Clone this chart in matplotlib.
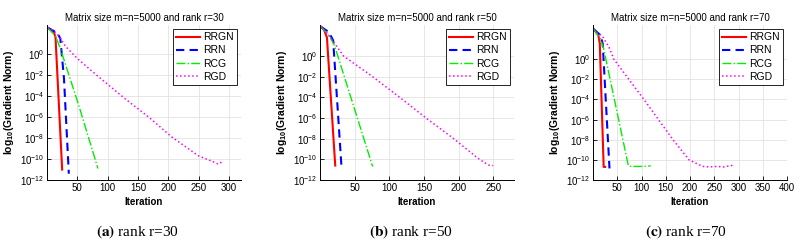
import numpy as np
import matplotlib
matplotlib.use("Agg")
import matplotlib.pyplot as plt
from matplotlib.ticker import LogFormatterSciNotation

plt.rcParams["font.family"] = ["Liberation Sans", "DejaVu Sans"]
plt.rcParams["mathtext.default"] = "regular"

# --- data: iteration vs log10(gradient norm) ---
# rank r=30
r30_rrgn_it = [1, 11, 14, 25]
r30_rrgn_lg = [2.55, 2.15, 1.65, -11.0]
r30_rrn_it = [1, 12, 17, 22, 28, 36]
r30_rrn_lg = [2.55, 2.2, 2.05, 1.5, -2.3, -11.4]
r30_rcg_it = [1, 14, 22, 52, 84]
r30_rcg_lg = [2.55, 1.75, 0.55, -4.8, -10.9]
r30_rgd_it = [1, 10, 19, 30, 50, 82, 130, 168, 206, 250, 276, 281, 285, 289]
r30_rgd_lg = [2.55, 2.3, 1.8, 0.8, -0.4, -2.0, -4.3, -6.0, -7.9, -9.7, -10.3, -10.45, -10.3, -10.4]

# rank r=50
r50_rrgn_it = [1, 6, 10, 22]
r50_rrgn_lg = [2.85, 2.5, 1.8, -10.6]
r50_rrn_it = [1, 13, 19, 31]
r50_rrn_lg = [2.85, 2.3, 1.5, -10.7]
r50_rcg_it = [1, 13, 21, 76]
r50_rcg_lg = [2.85, 2.0, 1.0, -10.7]
r50_rgd_it = [1, 8, 16, 34, 76, 115, 153, 193, 228, 243, 250]
r50_rgd_lg = [2.85, 2.4, 1.7, 0.0, -2.0, -4.0, -6.0, -8.0, -9.9, -10.55, -10.6]

# rank r=70
r70_rrgn_it = [1, 11, 14, 22, 25]
r70_rrgn_lg = [3.0, 2.4, 1.55, -10.7, -10.7]
r70_rrn_it = [1, 15, 20, 34]
r70_rrn_lg = [3.0, 2.4, 1.55, -10.85]
r70_rcg_it = [1, 15, 22, 73, 80, 100, 119]
r70_rcg_lg = [3.0, 2.05, 1.05, -10.6, -10.65, -10.65, -10.6]
r70_rgd_it = [1, 10, 19, 33, 43, 74, 105, 165, 198, 226, 240, 255, 270, 280, 288]
r70_rgd_lg = [3.0, 2.6, 2.3, 1.2, 0.0, -2.0, -4.0, -8.0, -10.0, -10.65, -10.7, -10.65, -10.7, -10.6, -10.55]

panels = [
    ("30", [(r30_rrgn_it, r30_rrgn_lg), (r30_rrn_it, r30_rrn_lg),
            (r30_rcg_it, r30_rcg_lg), (r30_rgd_it, r30_rgd_lg)], 320, 2.8, "a"),
    ("50", [(r50_rrgn_it, r50_rrgn_lg), (r50_rrn_it, r50_rrn_lg),
            (r50_rcg_it, r50_rcg_lg), (r50_rgd_it, r50_rgd_lg)], 280, 3.0, "b"),
    ("70", [(r70_rrgn_it, r70_rrgn_lg), (r70_rrn_it, r70_rrn_lg),
            (r70_rcg_it, r70_rcg_lg), (r70_rgd_it, r70_rgd_lg)], 400, 3.4, "c"),
]
names = ["RRGN", "RRN", "RCG", "RGD"]
styles = [("#ff0000", "-", 1.5), ("#0000ff", (0, (4, 2.5)), 1.5),
          ("#00ee00", "-.", 1.0), ("#ff00ff", ":", 1.1)]

W, H = 801, 240
fig = plt.figure(figsize=(W / 100, H / 100), dpi=100)
lefts = [47, 320, 593]

for k, (r, series, xmax, ytop, tag) in enumerate(panels):
    ax = fig.add_axes([lefts[k] / W, 60 / H, 194 / W, 155 / H])
    for (it, lg), name, (c, ls, lw) in zip(series, names, styles):
        ax.semilogy(it, 10.0 ** np.array(lg), color=c, linestyle=ls, lw=lw, label=name)
    ax.set_xlim(0, xmax)
    ax.set_ylim(1e-12, 10 ** ytop)
    ax.set_xticks(np.arange(50, xmax + 1, 50))
    ax.set_yticks([10.0 ** e for e in range(-12, 1, 2)])
    ax.yaxis.set_major_formatter(LogFormatterSciNotation())
    ax.minorticks_off()
    ax.tick_params(direction="in", labelsize=7, length=3, width=0.6, pad=2)
    ax.grid(True, color="#e2e2e2", lw=0.6)
    ax.set_axisbelow(True)
    for s in ["top", "right"]:
        ax.spines[s].set_visible(False)
    for s in ["left", "bottom"]:
        ax.spines[s].set_linewidth(0.7)
    ax.set_title(f"Matrix size m=n=5000 and rank r={r}", fontsize=7, pad=3)
    ax.set_xlabel("Iteration", fontsize=7, fontweight="bold", labelpad=3)
    ax.set_ylabel("log$_{10}$(Gradient Norm)", fontsize=7.5, fontweight="bold", labelpad=3)
    leg = ax.legend(loc="upper right", fontsize=7.5, handlelength=2.3, handletextpad=0.3,
                    borderpad=0.3, labelspacing=0.3, fancybox=False, framealpha=1,
                    borderaxespad=0.4)
    leg.get_frame().set_edgecolor("black")
    leg.get_frame().set_linewidth(0.6)
    cx = [137, 411, 686][k] / W
    fig.text(cx, 8 / H, f"$\\mathbf{{({tag})}}$ rank r={r}", ha="center", va="center",
             fontsize=11, family="Liberation Serif", math_fontfamily="stix")

fig.savefig("out.png", dpi=100)
